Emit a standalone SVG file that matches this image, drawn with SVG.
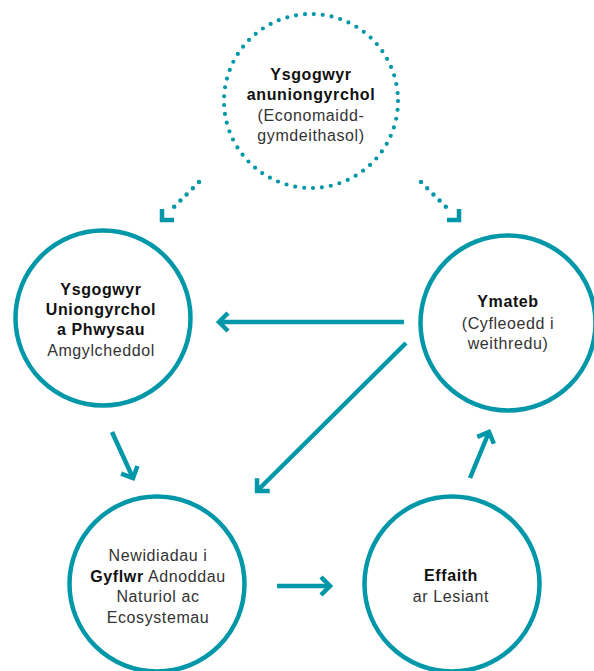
<svg xmlns="http://www.w3.org/2000/svg" width="594" height="671" viewBox="0 0 594 671">
<style>
.ring{fill:#fff;stroke:#0097a8;stroke-width:4.5}
.dotring{fill:none;stroke:#0097a8;stroke-width:4.2;stroke-linecap:round;stroke-dasharray:0 8.96}
.dots{stroke:#0097a8;stroke-width:4.5;stroke-linecap:round;stroke-dasharray:0 8.77}
.arr{stroke:#0097a8;stroke-width:4.5;fill:none}
.corner{stroke:#0097a8;stroke-width:4.5;fill:none;stroke-linejoin:miter}
text{font-family:"Liberation Sans",Arial,sans-serif;font-size:16px;letter-spacing:0.6px;text-anchor:middle;fill:#333}
.b{font-weight:bold;fill:#111}
</style>
<defs>
<marker id="chev" markerUnits="userSpaceOnUse" markerWidth="16" markerHeight="24" viewBox="0 0 16 24" refX="12" refY="12" orient="auto">
<path d="M3,3 L12,12 L3,21" fill="none" stroke="#0097a8" stroke-width="4.5" stroke-linejoin="miter"/>
</marker>
</defs>
<g id="connectors">
<line class="dots" x1="199" y1="182" x2="168" y2="213"/>
<polyline class="corner" points="162,209 162,220 174,220"/>
<line class="dots" x1="421" y1="182" x2="452" y2="213"/>
<polyline class="corner" points="459,209 459,220 447,220"/>
<line class="arr" x1="404" y1="322" x2="219" y2="322" marker-end="url(#chev)"/>
<line class="arr" x1="406" y1="343" x2="257" y2="491" marker-end="url(#chev)"/>
<line class="arr" x1="112" y1="432" x2="133" y2="478" marker-end="url(#chev)"/>
<line class="arr" x1="277" y1="586" x2="330" y2="586" marker-end="url(#chev)"/>
<line class="arr" x1="470" y1="478" x2="489" y2="432" marker-end="url(#chev)"/>
</g>
<g id="node-indirect">
<circle class="dotring" cx="311" cy="101" r="87"/>
<text class="b" x="311" y="80">Ysgogwyr</text>
<text class="b" x="311" y="100">anuniongyrchol</text>
<text x="311" y="121">(Economaidd-</text>
<text x="311" y="141">gymdeithasol)</text>
</g>
<g id="node-direct">
<circle class="ring" cx="103" cy="318" r="87.5"/>
<text class="b" x="101" y="295">Ysgogwyr</text>
<text class="b" x="101" y="315">Uniongyrchol</text>
<text class="b" x="101" y="335">a Phwysau</text>
<text x="101" y="356">Amgylcheddol</text>
</g>
<g id="node-response">
<circle class="ring" cx="508" cy="323" r="87.5"/>
<text class="b" x="508" y="307">Ymateb</text>
<text x="508" y="329">(Cyfleoedd i</text>
<text x="508" y="349">weithredu)</text>
</g>
<g id="node-state">
<circle class="ring" cx="157" cy="584" r="87.5"/>
<text x="158" y="561">Newidiadau i</text>
<text x="158" y="582"><tspan class="b">Gyflwr</tspan> Adnoddau</text>
<text x="158" y="602">Naturiol ac</text>
<text x="158" y="623">Ecosystemau</text>
</g>
<g id="node-impact">
<circle class="ring" cx="452" cy="584" r="87.5"/>
<text class="b" x="451" y="581">Effaith</text>
<text x="451" y="602">ar Lesiant</text>
</g>
</svg>
